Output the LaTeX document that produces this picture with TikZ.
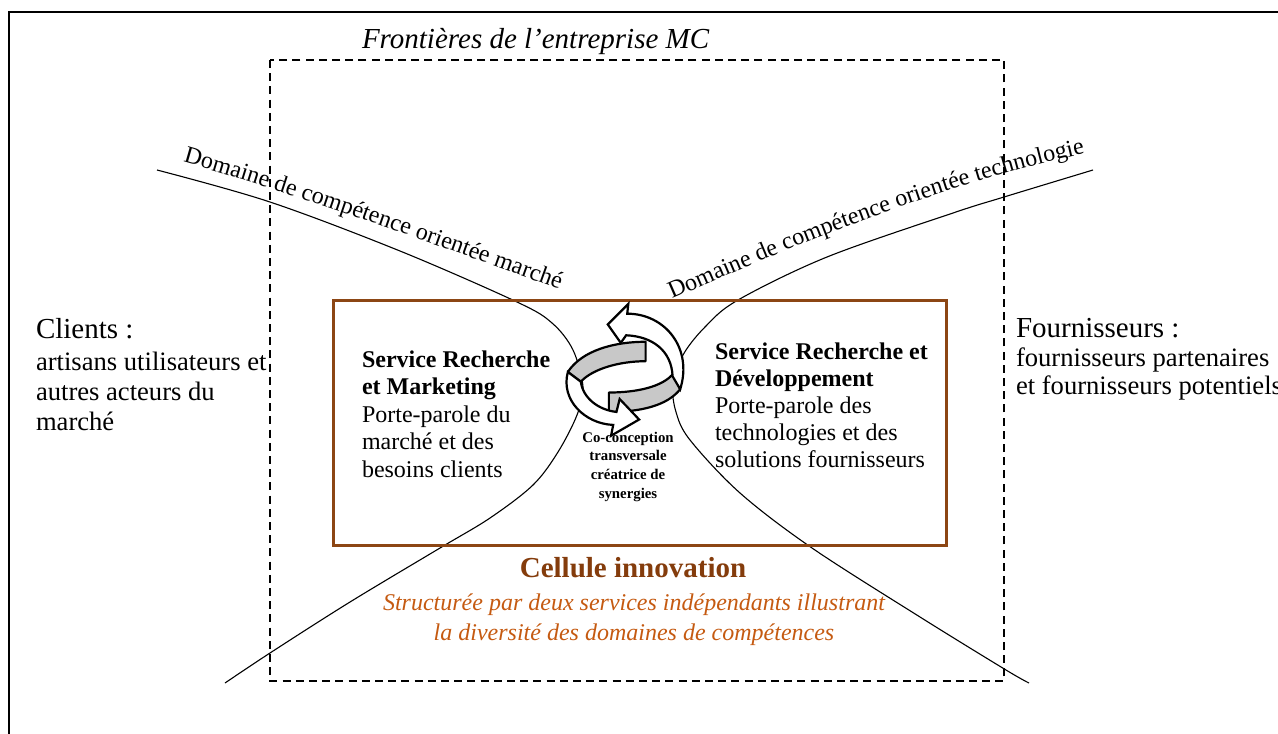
\documentclass[tikz,border=0pt]{standalone}
\usepackage{fontspec}
\setmainfont{Liberation Serif}
\usetikzlibrary{decorations.text}
\definecolor{boxbrown}{RGB}{140,70,20}
\definecolor{cellbrown}{RGB}{132,60,12}
\definecolor{itbrown}{RGB}{197,90,17}
\definecolor{ringgray}{RGB}{200,200,200}
\tikzset{
  outerframe/.style={draw=black, line width=1pt},
  boundary/.style={draw=black, line width=1pt, dash pattern=on 4pt off 2.6pt},
  cellbox/.style={draw=boxbrown, line width=1.5pt},
  domcurve/.style={draw=black, line width=0.55pt},
  ringband/.style={fill=ringgray, draw=black, line width=1.1pt, line join=round},
  ringarrow/.style={fill=white, draw=black, line width=1.1pt, line join=miter},
  txt/.style={inner sep=0pt, outer sep=0pt, align=left},
  head/.style={txt, font=\fontsize{14.5}{16}\selectfont},
  body/.style={txt, font=\fontsize{13.3}{15}\selectfont},
  inner/.style={txt, font=\fontsize{12}{13.75}\selectfont},
}
\begin{document}
\begin{tikzpicture}[x=0.5pt, y=-0.5pt]
\useasboundingbox (0,0) rectangle (1278,733);
% outer frame (cut by the page on the right and bottom)
\draw[outerframe] (9,12) rectangle (1320,780);
% company boundary
\draw[boundary] (270,60) rectangle (1004,681);
\node[head, anchor=base west, font=\fontsize{14.5}{16}\selectfont\itshape] (front) at (362,49) {Frontières de l’entreprise MC};
% competence curves
\draw[domcurve] plot[smooth, tension=0.55] coordinates {(157,170) (270,202) (400,251) (517,302) (552,323) (573,350) (583,387) (577,415) (558,452) (533,485) (490,518) (440,548) (350,602) (270,653) (225,683)};
\draw[domcurve] plot[smooth, tension=0.55] coordinates {(1093,170) (1004,197) (953,213) (827,257) (738,300) (705,327) (683,355) (673,385) (676,412) (690,440) (740,493) (812,548) (920,617) (1006,670) (1029,683)};
\path[decorate, decoration={text along path, text align=left,
  text={|\fontsize{12}{14}\selectfont|Domaine de compétence orientée marché}}]
  (183,162) .. controls (300,195) and (450,250) .. (575,295);
\path[decorate, decoration={text along path, text align=left,
  text={|\fontsize{12}{14}\selectfont|Domaine de compétence orientée technologie}}]
  (672,299) .. controls (800,243) and (950,180) .. (1110,148);
% innovation cell
\draw[cellbox] (333,300) rectangle (946,545);
\node[inner, anchor=base west] (rm) at (362,477) {\textbf{Service Recherche}\\\textbf{et Marketing}\\Porte-parole du\\marché et des\\besoins clients};
\node[inner, anchor=base west, font=\fontsize{12}{13.5}\selectfont] (rd) at (715,467) {\textbf{Service Recherche et}\\\textbf{Développement}\\Porte-parole des\\technologies et des\\solutions fournisseurs};
% circular arrow (two twisted ring arrows)
\begin{scope}[shift={(624,372)}, scale=1.08, shift={(-624,-372)}]
\path[ringband] (610,391) .. controls (635,391) and (660,386) .. (670,373) -- (676,388) .. controls (664,403) and (640,409) .. (610,409) -- cycle;
\path[ringarrow] (669,376) .. controls (668,352) and (650,339) .. (626,338) -- (621,345) -- (609,328) -- (628,309) -- (627,318) .. controls (662,318) and (688,350) .. (676,388) -- cycle;
\path[ringband] (644,344) .. controls (615,344) and (585,352) .. (572,372) -- (584,381) .. controls (595,369) and (620,362) .. (644,362) -- cycle;
\path[ringarrow] (584,381) .. controls (586,396) and (600,407) .. (617,409) -- (620,397) -- (638,416) -- (612,431) -- (614,421) .. controls (588,420) and (565,398) .. (572,372) -- cycle;
\end{scope}
\node[txt, align=center, anchor=base, font=\fontsize{7.4}{9.3}\selectfont\bfseries] (coc) at (628,498) {Co-conception\\transversale\\créatrice de\\synergies};
\node[txt, anchor=base, text=cellbrown, font=\fontsize{14.5}{16}\selectfont\bfseries] (cell) at (633,577) {Cellule innovation};
\node[txt, align=center, anchor=base, text=itbrown, font=\fontsize{12}{15}\selectfont\itshape] (struct) at (634,640) {Structurée par deux services indépendants illustrant\\la diversité des domaines de compétences};
% outside actors
\node[head, anchor=base west] (cli) at (36,338) {Clients :};
\node[body, anchor=base west] (clib) at (36,430) {artisans utilisateurs et\\autres acteurs du\\marché};
\node[head, anchor=base west] (four) at (1016,337) {Fournisseurs :};
\node[body, anchor=base west, font=\fontsize{13.3}{14}\selectfont] (fourb) at (1016,394) {fournisseurs partenaires\\et fournisseurs potentiels};
\end{tikzpicture}
\end{document}
